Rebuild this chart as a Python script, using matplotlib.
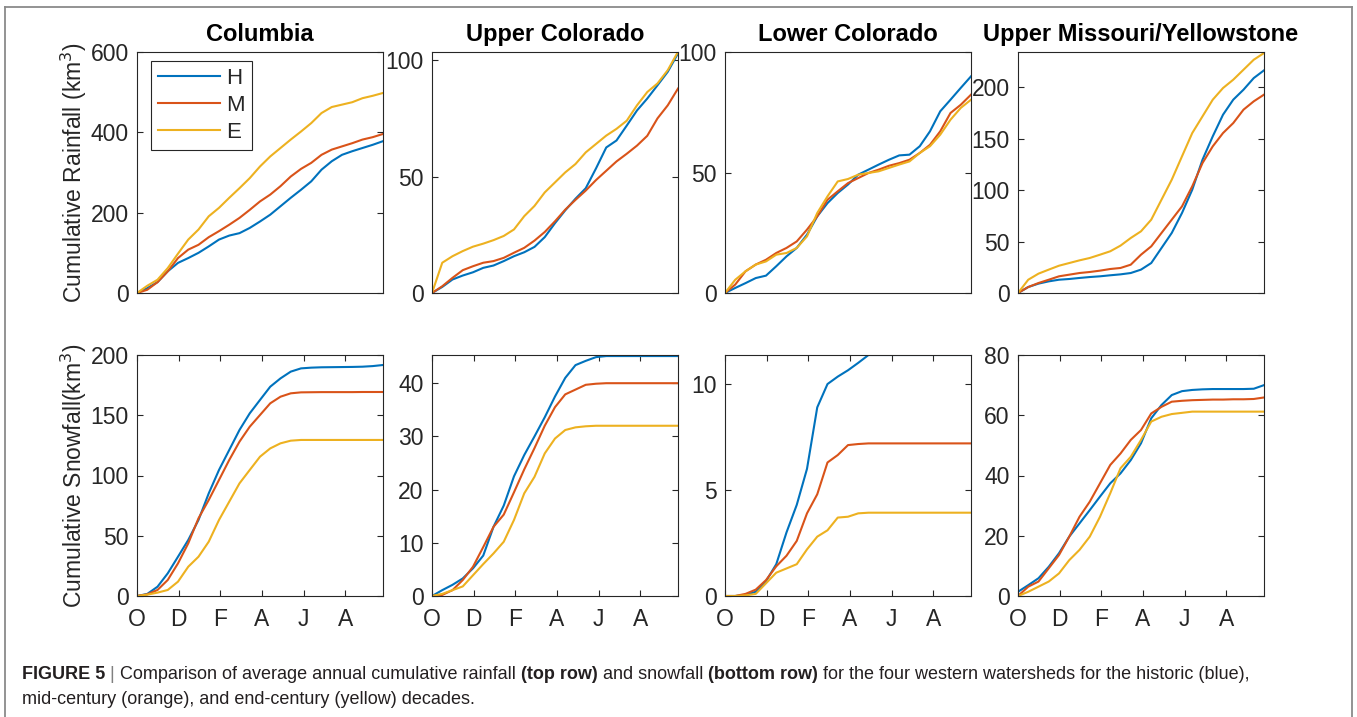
import matplotlib
matplotlib.use("Agg")
import matplotlib.pyplot as plt
from matplotlib.lines import Line2D

plt.rcParams['font.family'] = ['Liberation Sans', 'DejaVu Sans']

# day of water year (Oct 1 = 0), sampled every 15 days
days = [0, 15, 30, 45, 60, 75, 90, 105, 120, 135, 150, 165, 180,
        195, 210, 225, 240, 255, 270, 285, 300, 315, 330, 345, 360]

# cumulative rainfall (km3)
col_rain_h = [0, 12, 27, 54, 75, 87, 100, 116, 133, 143, 149, 162, 178,
              195, 216, 237, 257, 278, 307, 328, 344, 353, 361, 369, 378]
col_rain_m = [0, 8, 27, 54, 87, 108, 120, 139, 154, 170, 187, 207, 228,
              245, 266, 290, 309, 324, 344, 357, 365, 373, 382, 388, 396]
col_rain_e = [0, 18, 33, 62, 98, 133, 158, 191, 212, 237, 261, 286, 315,
              340, 361, 382, 402, 423, 448, 463, 469, 475, 485, 491, 498]

uc_rain_h = [0, 2.6, 5.8, 7.5, 8.9, 10.8, 11.8, 13.7, 15.8, 17.5, 19.8, 24.0, 30.0,
             35.5, 40.5, 45.0, 53.5, 62.5, 65.5, 71.9, 78.4, 83.5, 89.2, 95.0, 102.9]
uc_rain_m = [0, 2.9, 6.5, 9.8, 11.5, 13.0, 13.7, 15.1, 17.3, 19.4, 22.5, 26.2, 30.8,
             35.8, 40.0, 44.0, 48.5, 52.5, 56.5, 59.8, 63.3, 67.5, 75.0, 80.6, 87.8]
uc_rain_e = [0, 13.0, 15.8, 18.0, 19.9, 21.2, 22.7, 24.5, 27.3, 33.0, 37.4, 43.2, 47.5,
             51.8, 55.4, 60.4, 64.0, 67.6, 70.5, 74.0, 80.6, 86.3, 90.0, 95.7, 103.6]

lc_rain_h = [0, 2.1, 4.1, 6.2, 7.2, 11.1, 15.2, 18.7, 24.2, 31.8, 37.3, 41.5, 45.0,
             49.1, 51.2, 53.3, 55.3, 57.1, 57.4, 60.9, 67.1, 75.4, 80.2, 85.1, 89.9]
lc_rain_m = [0, 3.5, 9.0, 11.8, 13.8, 16.6, 18.7, 21.4, 26.3, 31.8, 38.7, 42.2, 45.6,
             47.7, 49.8, 51.2, 52.8, 53.9, 55.3, 58.1, 61.5, 67.1, 74.7, 78.1, 82.3]
lc_rain_e = [0, 5.5, 9.0, 11.8, 13.1, 15.9, 16.6, 18.7, 23.5, 33.2, 40.1, 46.3, 47.3,
             49.1, 49.8, 50.5, 51.9, 53.3, 54.6, 58.1, 60.9, 65.7, 71.9, 76.8, 80.2]

um_rain_h = [0, 5.8, 9.1, 11.3, 12.9, 13.6, 14.6, 15.5, 16.2, 17.2, 18.1, 19.4, 22.7,
             29.1, 43.7, 58.3, 77.7, 100.3, 129.4, 152.1, 173.1, 187.7, 197.4, 208.7, 216.2]
um_rain_m = [0, 5.8, 9.7, 12.9, 16.2, 17.8, 19.4, 20.4, 21.7, 23.3, 24.3, 27.5, 37.2,
             45.3, 58.3, 71.2, 84.1, 103.6, 126.2, 142.4, 155.3, 165.0, 178.0, 186.1, 192.6]
um_rain_e = [0, 12.9, 18.8, 22.7, 26.5, 29.1, 31.7, 34.0, 37.2, 40.5, 46.0, 53.4, 59.9,
             71.2, 90.6, 110.0, 132.7, 155.3, 171.5, 187.7, 199.0, 207.1, 216.8, 226.5, 233.0]

# cumulative snowfall (km3)
col_snow_h = [0, 1.7, 7.7, 18.8, 32.6, 46.5, 63.1, 85.2, 104.6, 121.2, 137.8, 151.6, 162.7,
              173.7, 180.6, 186.2, 188.9, 189.5, 189.8, 189.9, 190.0, 190.1, 190.3, 190.8, 191.7]
col_snow_m = [0, 1.4, 5.0, 13.3, 27.1, 43.7, 64.5, 79.7, 96.3, 112.9, 128.1, 140.5, 150.2,
              159.9, 165.4, 168.2, 169.0, 169.1, 169.2, 169.2, 169.2, 169.2, 169.3, 169.3, 169.3]
col_snow_e = [0, 1.1, 2.8, 5.0, 11.9, 24.3, 32.6, 45.1, 63.1, 78.3, 93.5, 104.6, 115.6,
              122.5, 126.7, 128.9, 129.5, 129.5, 129.5, 129.5, 129.5, 129.5, 129.5, 129.5, 129.5]

uc_snow_h = [0, 1.1, 2.1, 3.3, 5.2, 7.6, 13.0, 17.0, 22.5, 26.5, 30.0, 33.6, 37.5,
             41.0, 43.4, 44.2, 44.9, 45.1, 45.1, 45.1, 45.1, 45.1, 45.1, 45.1, 45.1]
uc_snow_m = [0, 0.2, 1.1, 3.0, 5.5, 9.2, 13.0, 15.3, 19.5, 23.8, 27.8, 32.0, 35.5,
             37.9, 38.8, 39.7, 39.9, 40.0, 40.0, 40.0, 40.0, 40.0, 40.0, 40.0, 40.0]
uc_snow_e = [0, 0.4, 1.1, 1.8, 3.9, 6.0, 8.0, 10.2, 14.3, 19.3, 22.4, 26.8, 29.6,
             31.2, 31.7, 31.9, 32.0, 32.0, 32.0, 32.0, 32.0, 32.0, 32.0, 32.0, 32.0]

lc_snow_h = [0, 0, 0.05, 0.2, 0.7, 1.5, 3.0, 4.3, 6.0, 8.9, 10.0, 10.35, 10.65,
             11.0, 11.37, 11.37, 11.37, 11.37, 11.37, 11.37, 11.37, 11.37, 11.37, 11.37, 11.37]
lc_snow_m = [0, 0, 0.1, 0.3, 0.75, 1.4, 1.9, 2.6, 3.9, 4.8, 6.3, 6.65, 7.12,
             7.17, 7.2, 7.2, 7.2, 7.2, 7.2, 7.2, 7.2, 7.2, 7.2, 7.2, 7.2]
lc_snow_e = [0, 0, 0.03, 0.1, 0.6, 1.1, 1.3, 1.5, 2.2, 2.8, 3.1, 3.7, 3.74,
             3.9, 3.93, 3.93, 3.93, 3.93, 3.93, 3.93, 3.93, 3.93, 3.93, 3.93, 3.93]

um_snow_h = [1.4, 3.6, 5.9, 9.7, 14.2, 19.7, 24.1, 28.5, 33.0, 37.4, 40.7, 45.1, 50.7,
             59.0, 63.4, 66.7, 68.0, 68.4, 68.6, 68.7, 68.7, 68.7, 68.7, 68.8, 70.0]
um_snow_m = [0, 3.1, 4.8, 9.2, 13.6, 19.7, 26.3, 31.3, 37.4, 43.5, 47.3, 51.8, 55.1,
             60.6, 62.8, 64.5, 64.8, 65.0, 65.1, 65.2, 65.2, 65.3, 65.3, 65.4, 65.9]
um_snow_e = [0, 1.4, 3.1, 4.8, 7.5, 11.9, 15.3, 19.7, 26.3, 34.1, 42.4, 46.2, 51.8,
             57.9, 59.5, 60.4, 60.8, 61.2, 61.2, 61.2, 61.2, 61.2, 61.2, 61.2, 61.2]

basins = ["Columbia", "Upper Colorado", "Lower Colorado", "Upper Missouri/Yellowstone"]
rain = [(col_rain_h, col_rain_m, col_rain_e), (uc_rain_h, uc_rain_m, uc_rain_e),
        (lc_rain_h, lc_rain_m, lc_rain_e), (um_rain_h, um_rain_m, um_rain_e)]
snow = [(col_snow_h, col_snow_m, col_snow_e), (uc_snow_h, uc_snow_m, uc_snow_e),
        (lc_snow_h, lc_snow_m, lc_snow_e), (um_snow_h, um_snow_m, um_snow_e)]
rain_ylim = [(0, 600), (0, 103.5), (0, 100), (0, 234)]
rain_yticks = [[0, 200, 400, 600], [0, 50, 100], [0, 50, 100], [0, 50, 100, 150, 200]]
snow_ylim = [(0, 200), (0, 45.3), (0, 11.37), (0, 80)]
snow_yticks = [[0, 50, 100, 150, 200], [0, 10, 20, 30, 40], [0, 5, 10], [0, 20, 40, 60, 80]]
month_ticks = [0, 61, 122, 183, 244, 305]
month_labels = ["O", "D", "F", "A", "J", "A"]
series_names = ["H", "M", "E"]
colors = ["#0072BD", "#D95319", "#EDB120"]
ink = "#262626"

W, H = 1357, 717
fig = plt.figure(figsize=(W / 100, H / 100), dpi=100)

lefts = [137, 432, 725, 1018]
aw, ah = 246, 241


def make_ax(left, top):
    return fig.add_axes([left / W, 1 - (top + ah) / H, aw / W, ah / H])


def style(ax, ylim, yticks, bottom_row):
    ax.set_xlim(0, 360)
    ax.set_ylim(*ylim)
    ax.set_yticks(yticks)
    for s in ax.spines.values():
        s.set_color(ink)
        s.set_linewidth(0.8)
    ax.tick_params(axis="y", direction="in", left=True, right=True, length=4,
                   width=0.8, color=ink, labelcolor=ink, labelsize=16.5, pad=6)
    if bottom_row:
        ax.set_xticks(month_ticks)
        ax.set_xticklabels(month_labels)
        ax.tick_params(axis="x", direction="in", bottom=True, top=True, length=4,
                       width=0.8, color=ink, labelcolor=ink, labelsize=16.5, pad=9)
    else:
        ax.set_xticks([])


for i in range(4):
    ax = make_ax(lefts[i], 52)
    for vals, c, n in zip(rain[i], colors, series_names):
        ax.plot(days, vals, color=c, lw=1.5, label=n)
    style(ax, rain_ylim[i], rain_yticks[i], False)
    ax.set_title(basins[i], fontsize=17, fontweight="bold", color="black", pad=8)
    if i == 0:
        ax.set_ylabel("Cumulative Rainfall (km$^3$)", fontsize=16.5, color=ink, labelpad=1)
        leg = ax.legend(loc="upper left", bbox_to_anchor=(14 / aw, 1 - 9 / ah),
                        borderaxespad=0, fontsize=16, handlelength=2.8,
                        handletextpad=0.3, labelspacing=0.28, borderpad=0.3,
                        fancybox=False, framealpha=1, edgecolor=ink)
        leg.get_frame().set_linewidth(0.8)
        for t in leg.get_texts():
            t.set_color(ink)

    ax2 = make_ax(lefts[i], 355)
    for vals, c in zip(snow[i], colors):
        ax2.plot(days, vals, color=c, lw=1.5)
    style(ax2, snow_ylim[i], snow_yticks[i], True)
    if i == 0:
        ax2.set_ylabel("Cumulative Snowfall(km$^3$)", fontsize=16.5, color=ink, labelpad=1)

# outer frame of the figure panel
frame_c = "#8a8a8a"
fig.add_artist(Line2D([5 / W, 5 / W], [0, 1 - 7 / H], color=frame_c, lw=1.3))
fig.add_artist(Line2D([5 / W, 1352 / W], [1 - 7 / H, 1 - 7 / H], color=frame_c, lw=1.3))
fig.add_artist(Line2D([1352 / W, 1352 / W], [0, 1 - 7 / H], color=frame_c, lw=1.3))

# caption with mixed bold / regular runs
cap = fig.add_axes([0, 0, 1, 1], zorder=-1)
cap.set_axis_off()
cap.set_xlim(0, 1)
cap.set_ylim(0, 1)
cap_size = 13.0
cap_color = "#231f20"
runs = [("FIGURE 5", "bold", cap_color), (" | ", "normal", "#808080"),
        ("Comparison of average annual cumulative rainfall ", "normal", cap_color),
        ("(top row)", "bold", cap_color), (" and snowfall ", "normal", cap_color),
        ("(bottom row)", "bold", cap_color),
        (" for the four western watersheds for the historic (blue),", "normal", cap_color)]
prev = None
for txt, wt, c in runs:
    if prev is None:
        prev = cap.text(22 / W, 1 - 683 / H, txt, fontsize=cap_size, fontweight=wt,
                        color=c, ha="left", va="bottom")
    else:
        prev = cap.annotate(txt, xy=(1, 0), xycoords=prev, fontsize=cap_size,
                            fontweight=wt, color=c, ha="left", va="bottom")
cap.text(22 / W, 1 - 708 / H, "mid-century (orange), and end-century (yellow) decades.",
         fontsize=cap_size, color=cap_color, ha="left", va="bottom")

fig.savefig("out.png", dpi=100)
